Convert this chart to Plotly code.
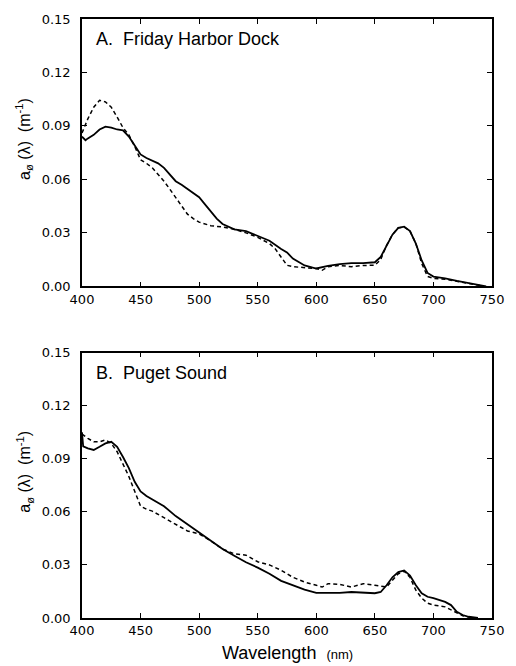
import plotly.graph_objects as go
from plotly.subplots import make_subplots

# Panel A: Friday Harbor Dock
wl_a_solid = [400, 403, 405, 410, 415, 420, 425, 430, 435, 440, 445, 450, 455, 460, 465, 470, 475, 480, 485, 490,
              495, 500, 505, 510, 515, 520, 525, 530, 540, 550, 560, 570, 575, 580, 590, 600, 610, 620, 630, 640,
              650, 655, 660, 665, 670, 675, 680, 685, 690, 695, 700, 710, 720, 730, 740, 745]
a_solid = [0.084, 0.082, 0.083, 0.085, 0.088, 0.0896, 0.089, 0.088, 0.0875, 0.084, 0.079, 0.074, 0.072, 0.0705,
           0.069, 0.0665, 0.063, 0.059, 0.057, 0.0545, 0.052, 0.050, 0.046, 0.042, 0.038, 0.035, 0.0335, 0.032,
           0.031, 0.0285, 0.0256, 0.021, 0.019, 0.0156, 0.0117, 0.010, 0.0115, 0.0125, 0.013, 0.013, 0.0135,
           0.0165, 0.023, 0.029, 0.0328, 0.0335, 0.031, 0.024, 0.0145, 0.0075, 0.0055, 0.0045, 0.003, 0.0017,
           0.0006, 0.0]

wl_a_dash = [400, 405, 410, 415, 420, 425, 430, 435, 440, 445, 450, 455, 460, 465, 470, 475, 480, 485, 490, 495,
             500, 510, 520, 530, 540, 550, 560, 565, 570, 575, 580, 590, 600, 605, 610, 620, 630, 640, 650, 655,
             660, 665, 670, 675, 680, 685, 690, 695, 700, 710, 720, 730, 740]
a_dash = [0.086, 0.094, 0.1005, 0.1044, 0.1035, 0.1005, 0.095, 0.089, 0.085, 0.0785, 0.071, 0.069, 0.0665, 0.063,
          0.059, 0.0545, 0.050, 0.045, 0.0405, 0.038, 0.036, 0.034, 0.0333, 0.032, 0.030, 0.0275, 0.024, 0.021,
          0.0165, 0.0118, 0.011, 0.0106, 0.010, 0.009, 0.011, 0.0117, 0.011, 0.0117, 0.0118, 0.015, 0.023, 0.029,
          0.0328, 0.0333, 0.031, 0.024, 0.0128, 0.0055, 0.0045, 0.004, 0.0028, 0.0015, 0.0004]

# Panel B: Puget Sound
wl_b_solid = [400, 401, 405, 410, 415, 420, 425, 430, 435, 440, 445, 450, 455, 460, 470, 480, 490, 500, 510, 520,
              530, 540, 550, 560, 570, 580, 590, 600, 610, 620, 630, 640, 650, 655, 660, 665, 670, 675, 680, 685,
              690, 695, 700, 710, 715, 720, 725, 730, 735, 738]
b_solid = [0.105, 0.097, 0.0959, 0.095, 0.0968, 0.0987, 0.0996, 0.0968, 0.091, 0.0847, 0.077, 0.0716, 0.069,
           0.067, 0.0632, 0.0576, 0.053, 0.0483, 0.0436, 0.039, 0.0352, 0.0315, 0.0285, 0.025, 0.021, 0.0185,
           0.016, 0.0142, 0.014, 0.0142, 0.0147, 0.0142, 0.014, 0.0147, 0.0185, 0.023, 0.026, 0.0269, 0.024,
           0.0185, 0.014, 0.012, 0.0112, 0.0091, 0.0073, 0.0035, 0.0017, 0.0007, 0.0002, 0.0]

wl_b_dash = [400, 405, 410, 415, 420, 425, 430, 435, 440, 445, 450, 455, 460, 470, 480, 490, 500, 510, 520, 530,
             540, 550, 560, 570, 580, 590, 600, 605, 610, 620, 630, 640, 650, 660, 665, 670, 675, 680, 685, 690,
             695, 700, 710, 715, 720, 725, 730, 735]
b_dash = [0.104, 0.1015, 0.0996, 0.0996, 0.1007, 0.0987, 0.094, 0.0867, 0.080, 0.0716, 0.0632, 0.0615, 0.0604,
          0.0567, 0.053, 0.0492, 0.0475, 0.0436, 0.039, 0.0363, 0.0355, 0.0318, 0.030, 0.027, 0.023, 0.0203,
          0.0185, 0.0175, 0.0194, 0.019, 0.0175, 0.0194, 0.0185, 0.0175, 0.0213, 0.025, 0.0265, 0.023, 0.0157,
          0.0112, 0.0084, 0.0073, 0.0063, 0.0045, 0.0028, 0.0013, 0.0006, 0.0]

x_ticks = [400, 450, 500, 550, 600, 650, 700, 750]
y_ticks = [0.00, 0.03, 0.06, 0.09, 0.12, 0.15]
panel_labels = ["A.  Friday Harbor Dock", "B.  Puget Sound"]
y_title = "a<sub>ø</sub> (λ)  (m<sup>-1</sup>)"

FONT = "Liberation Sans, Arial, Helvetica, sans-serif"
TICKFONT = "DejaVu Sans, Liberation Sans, sans-serif"

fig = make_subplots(rows=2, cols=1, vertical_spacing=0.11)

line_solid = dict(color="black", width=1.8)
line_dash = dict(color="black", width=1.5, dash="4px,3px")

fig.add_trace(go.Scatter(x=wl_a_solid, y=a_solid, mode="lines", line=line_solid, showlegend=False), row=1, col=1)
fig.add_trace(go.Scatter(x=wl_a_dash, y=a_dash, mode="lines", line=line_dash, showlegend=False), row=1, col=1)
fig.add_trace(go.Scatter(x=wl_b_solid, y=b_solid, mode="lines", line=line_solid, showlegend=False), row=2, col=1)
fig.add_trace(go.Scatter(x=wl_b_dash, y=b_dash, mode="lines", line=line_dash, showlegend=False), row=2, col=1)

axis_common = dict(
    showline=True, linecolor="black", linewidth=1.5, mirror="ticks",
    ticks="inside", ticklen=5, tickwidth=1.2, tickcolor="black",
    showgrid=False, zeroline=False,
    tickfont=dict(family=TICKFONT, size=13, color="black"),
)

top_dom = [(666 - 48 - 283) / 605, 1.0]
bot_dom = [0.0, (618 - 350) / 605]

fig.update_layout(
    width=516, height=666,
    margin=dict(l=82, r=19, t=13, b=48),
    paper_bgcolor="white", plot_bgcolor="white",
    font=dict(family=FONT, color="black"),
    xaxis=dict(range=[400, 750], tickvals=x_ticks, **axis_common),
    xaxis2=dict(range=[400, 750], tickvals=x_ticks, **axis_common),
    yaxis=dict(range=[0, 0.15], tickvals=y_ticks, tickformat=".2f", domain=top_dom,
               ticklabelstandoff=7, **axis_common),
    yaxis2=dict(range=[0, 0.15], tickvals=y_ticks, tickformat=".2f", domain=bot_dom,
                ticklabelstandoff=7, **axis_common),
)

annotations = []
for i, (lab, yref) in enumerate(zip(panel_labels, ["y domain", "y2 domain"])):
    xref = "x domain" if i == 0 else "x2 domain"
    annotations.append(dict(text=lab, xref=xref, yref=yref, x=0.03, y=0.925, xanchor="left", yanchor="middle",
                            showarrow=False, font=dict(family=FONT, size=18, color="black")))
    annotations.append(dict(text=y_title, xref="paper", yref=yref, x=-0.14, y=0.55, xanchor="center",
                            yanchor="middle", textangle=-90, showarrow=False,
                            font=dict(family=FONT, size=16, color="black")))

annotations.append(dict(text="Wavelength  <span style='font-size:13px'>(nm)</span>", xref="paper", yref="paper",
                        x=0.5, y=-0.058, xanchor="center", yanchor="middle", showarrow=False,
                        font=dict(family=FONT, size=18, color="black")))
fig.update_layout(annotations=annotations)

fig.write_html("out.html")
